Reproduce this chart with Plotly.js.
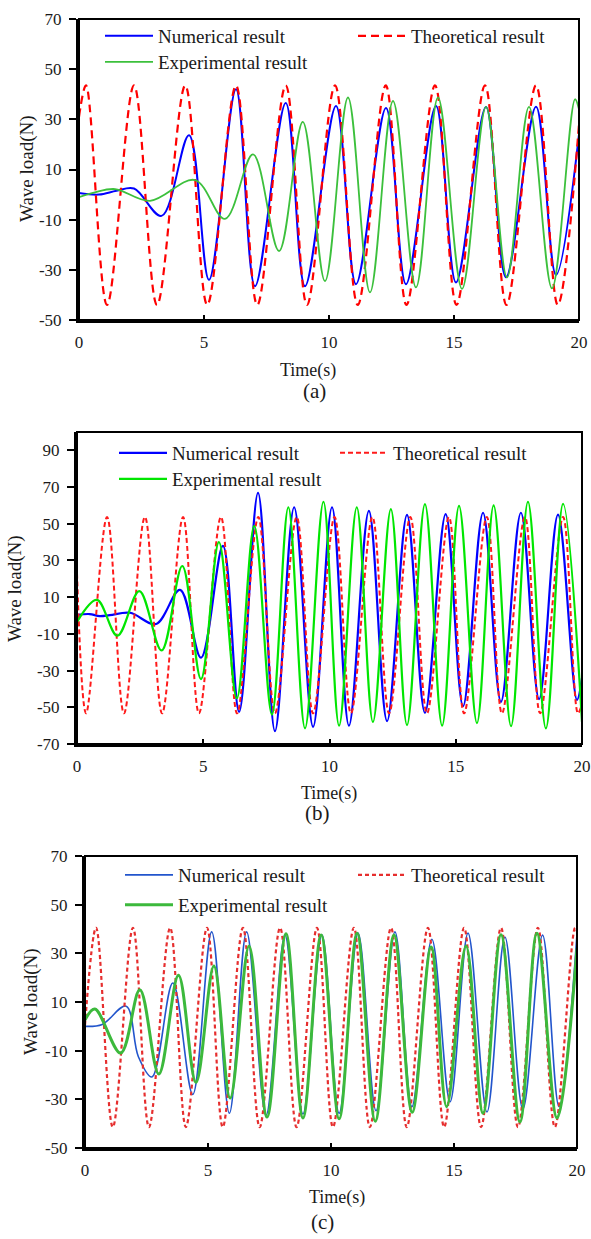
<!DOCTYPE html>
<html>
<head>
<meta charset="utf-8">
<script src="https://cdn.plot.ly/plotly-3.0.1.min.js"></script>
<style>
html,body{margin:0;padding:0;background:#fff;}
#chart{width:591px;height:1239px;}
</style>
</head>
<body>
<div id="chart"></div>
<script>
// ---------------- Panel (a) ----------------
var tA_num = [0, 0.8, 1.5, 2.2, 3.3, 4.4, 5.2, 6.28, 7.04, 8.27, 9.04, 10.28, 11.08, 12.28, 13.08, 14.28, 15.08, 16.28, 17.08, 18.28, 19.08, 20];
var yA_num = [0.6, 0, 1.5, 2.4, -8.5, 23.7, -34, 42, -36.5, 36.5, -36.5, 35.3, -35.7, 34.5, -35.7, 35.3, -35, 34.9, -33, 35, -32, 24];
var tA_theo = [0, 0.28, 1.12, 2.2, 3.12, 4.25, 5.13, 6.28, 7.13, 8.27, 9.12, 10.24, 11.15, 12.27, 13.1, 14.24, 15.1, 16.24, 17.1, 18.28, 19.15, 20];
var yA_theo = [31, 43.5, -44, 43.5, -44, 43.5, -44, 43.5, -44, 43.5, -44, 43.5, -44, 43.5, -44, 43.5, -44, 43.5, -44, 43.5, -44, 28];
var tA_exp = [0, 0.6, 1.44, 2.84, 4.64, 5.84, 6.96, 8.0, 8.95, 9.84, 10.76, 11.64, 12.56, 13.48, 14.36, 15.32, 16.28, 17.12, 18.0, 18.92, 19.84, 20];
var yA_exp = [-1, 0.8, 2.2, -2.5, 5.8, -9.7, 16, -22.5, 29, -34.5, 38.7, -39, 37.3, -37, 38.7, -37.6, 35, -33, 35, -37.4, 38, 34];

// ---------------- Panel (b) ----------------
var tB_num = [0, 0.5, 0.9, 1.3, 2.1, 3.13, 4.08, 4.91, 5.78, 6.42, 7.17, 7.84, 8.6, 9.35, 10.1, 10.77, 11.56, 12.28, 13.07, 13.78, 14.6, 15.29, 16.08, 16.79, 17.58, 18.3, 19.05, 19.8, 20];
var yB_num = [0.3, 0.8, -0.3, 0.2, 1.5, -4.6, 14, -23, 38, -52.5, 66.8, -63, 59, -60.7, 59, -60, 57, -57.5, 54.8, -53, 55.2, -49.4, 56, -47, 56, -45.5, 55, -46, -34];
var tB_theo = [0, 0.36, 1.19, 1.86, 2.69, 3.37, 4.2, 4.83, 5.7, 6.34, 7.18, 7.84, 8.7, 9.35, 10.2, 10.85, 11.7, 12.36, 13.2, 13.86, 14.73, 15.33, 16.23, 16.83, 17.74, 18.34, 19.25, 19.84, 20];
var yB_theo = [23, -53.3, 53.7, -53.3, 53.7, -53.3, 53.7, -53.3, 53.7, -53.3, 53.7, -53.3, 53.7, -53.3, 53.7, -53.3, 53.7, -53.3, 53.7, -53.3, 53.7, -53.3, 53.7, -53.3, 53.7, -53.3, 53.7, -53.3, -48];
var tB_exp = [0, 0.79, 1.6, 2.47, 3.35, 4.17, 4.91, 5.62, 6.33, 7.02, 7.72, 8.37, 9.03, 9.76, 10.38, 11.08, 11.72, 12.43, 13.07, 13.78, 14.46, 15.13, 15.84, 16.5, 17.19, 17.86, 18.57, 19.25, 20];
var yB_exp = [-3.5, 8.5, -11, 13.3, -19, 27, -34.6, 40, -45, 48.8, -54, 59, -61.5, 62, -60, 59, -58, 58, -59.7, 60.7, -60, 59.7, -58.6, 60, -60.3, 62, -61.5, 60.8, -58];

// ---------------- Panel (c) ----------------
var tC_num = [0, 0.7, 1.67, 2.17, 2.72, 3.57, 4.38, 5.15, 5.87, 6.57, 7.36, 8.13, 8.86, 9.63, 10.33, 11.1, 11.83, 12.6, 13.29, 14.1, 14.84, 15.57, 16.34, 17.07, 17.8, 18.6, 19.27, 20];
var yC_num = [0, 0.8, 8.3, -12.5, -20.8, 17.8, -28, 38.8, -35.7, 38.8, -36.5, 37.5, -36, 37.6, -35.7, 38.3, -34.7, 38.8, -33, 35.8, -31, 38.3, -35.2, 36.7, -34, 37.5, -33, 38];
var tC_theo = [0, 0.45, 1.13, 1.95, 2.6, 3.46, 4.1, 4.96, 5.6, 6.42, 7.1, 7.93, 8.6, 9.43, 10.08, 10.93, 11.58, 12.44, 13.08, 13.94, 14.6, 15.41, 16.1, 16.91, 17.6, 18.41, 19.1, 19.92, 20];
var yC_theo = [0.5, 40.5, -41.4, 40.5, -41.4, 40.5, -41.4, 40.5, -41.4, 40.5, -41.4, 40.5, -41.4, 40.5, -41.4, 40.5, -41.4, 40.5, -41.4, 40.5, -41.4, 40.5, -41.4, 40.5, -41.4, 40.5, -41.4, 40.5, 39];
var tC_exp = [0, 0.4, 1.45, 2.23, 3.0, 3.8, 4.51, 5.24, 5.9, 6.67, 7.4, 8.17, 8.86, 9.6, 10.33, 11.06, 11.8, 12.56, 13.3, 14.07, 14.7, 15.49, 16.18, 16.91, 17.68, 18.37, 19.19, 20];
var yC_exp = [2.6, 7.1, -11, 15, -19.6, 21, -23, 24.8, -29.5, 33, -37.3, 38, -37.7, 37.5, -38, 38.3, -39, 37.5, -35.3, 32.6, -33, 33, -35.7, 37.6, -39.3, 38.3, -37.7, 32];

// ---------------- Labels / ticks ----------------
var seriesNames = ['Numerical result', 'Theoretical result', 'Experimental result'];
var panelLabels = ['(a)', '(b)', '(c)'];
var xTicks = [0, 5, 10, 15, 20];
var yTicksA = [-50, -30, -10, 10, 30, 50, 70];
var yTicksB = [-70, -50, -30, -10, 10, 30, 50, 70, 90];
var yTicksC = [-50, -30, -10, 10, 30, 50, 70];
var xTitle = 'Time(s)';
var yTitle = 'Wave load(N)';

// ---------------- Styling / geometry ----------------
var W = 591, H = 1239;
var FONT = '"Liberation Serif", "Times New Roman", serif';
var TXT = '#1a1a1a';
function px(x){ return x / W; }
function py(y){ return 1 - y / H; }

var panels = [
  {id:'', box:[79,579,19,320], yr:[-50,70], yt:yTicksA,
   data:[[tA_num,yA_num],[tA_theo,yA_theo],[tA_exp,yA_exp]],
   styles:[{color:'#0000ff',width:2},{color:'#ff0000',width:2.2,dash:'8px,5px'},{color:'#3cc03c',width:1.8}],
   leg:[[100,36],[353,36],[100,62]], label:[314,391], xt:[308,370], yt2:[27,169]},
  {id:'2', box:[77,582,432,744], yr:[-70,100], yt:yTicksB,
   data:[[tB_num,yB_num],[tB_theo,yB_theo],[tB_exp,yB_exp]],
   styles:[{color:'#0000ff',width:2.2},{color:'#ff1a1a',width:2,dash:'5px,3px'},{color:'#00e600',width:2.2}],
   leg:[[114,453],[335,453],[114,479]], label:[317,813], xt:[329,793], yt2:[15,589]},
  {id:'3', box:[85,577,856,1148], yr:[-50,70], yt:yTicksC,
   data:[[tC_num,yC_num],[tC_theo,yC_theo],[tC_exp,yC_exp]],
   styles:[{color:'#2255cc',width:1.6},{color:'#e62e2e',width:2.2,dash:'4px,3px'},{color:'#3cb93c',width:3}],
   leg:[[120,875],[353,875],[120,905]], label:[322,1222], xt:[337,1197], yt2:[31,1002]}
];

var traces = [];
var layout = {
  width: W, height: H,
  margin: {l:0, r:0, t:0, b:0},
  paper_bgcolor: '#fff', plot_bgcolor: '#fff',
  font: {family: FONT, color: TXT, size: 17},
  showlegend: true,
  annotations: [], shapes: []
};

var legendCount = 0;
panels.forEach(function(p, pi){
  var xa = 'xaxis' + p.id, ya = 'yaxis' + p.id;
  var xr = 'x' + p.id, yr = 'y' + p.id;
  layout[xa] = {
    domain: [px(p.box[0]), px(p.box[1])],
    anchor: yr, range: [0, 20], tickvals: xTicks, ticktext: xTicks.map(String),
    ticks: 'inside', ticklen: 5, tickwidth: 2, tickcolor: '#000',
    ticklabelstandoff: 5,
    showline: true, linewidth: 3, linecolor: '#000',
    showgrid: false, zeroline: false,
    tickfont: {family: FONT, size: 17, color: TXT},
    automargin: false, fixedrange: true
  };
  layout[ya] = {
    domain: [py(p.box[3]), py(p.box[2])],
    anchor: xr, range: p.yr, tickvals: p.yt, ticktext: p.yt.map(String),
    ticks: 'outside', ticklen: 7, tickwidth: 2, tickcolor: '#000',
    ticklabelstandoff: 4,
    showline: true, linewidth: 3, linecolor: '#000',
    showgrid: false, zeroline: false,
    tickfont: {family: FONT, size: 17, color: TXT},
    automargin: false, fixedrange: true
  };
  // frame (top/right border)
  layout.shapes.push({type:'rect', xref: xr + ' domain', yref: yr + ' domain',
    x0:0, x1:1, y0:0, y1:1, line:{color:'#000', width:2}, layer:'above'});
  // axis titles
  layout.annotations.push({text: xTitle, xref:'paper', yref:'paper',
    x: px(p.xt[0]), y: py(p.xt[1]), xanchor:'center', yanchor:'middle',
    showarrow:false, font:{family: FONT, size: 18, color: TXT}});
  layout.annotations.push({text: yTitle, xref:'paper', yref:'paper', textangle: -90,
    x: px(p.yt2[0]), y: py(p.yt2[1]), xanchor:'center', yanchor:'middle',
    showarrow:false, font:{family: FONT, size: 19, color: TXT}});
  // panel letter
  layout.annotations.push({text: panelLabels[pi], xref:'paper', yref:'paper',
    x: px(p.label[0]), y: py(p.label[1]), xanchor:'center', yanchor:'middle',
    showarrow:false, font:{family: FONT, size: 21, color: TXT}});

  p.data.forEach(function(d, si){
    legendCount++;
    var lname = legendCount === 1 ? 'legend' : 'legend' + legendCount;
    layout[lname] = {
      x: px(p.leg[si][0]), y: py(p.leg[si][1]), xref:'paper', yref:'paper',
      xanchor:'left', yanchor:'middle', bgcolor:'rgba(0,0,0,0)', borderwidth:0,
      itemwidth: 48,
      font:{family: FONT, size: 19, color: TXT}
    };
    var st = p.styles[si];
    traces.push({
      type:'scatter', mode:'lines', x: d[0], y: d[1], xaxis: xr, yaxis: yr,
      name: seriesNames[si], legend: lname,
      line: {color: st.color, width: st.width, dash: st.dash || 'solid', shape:'spline', smoothing: 1},
      hoverinfo: 'skip'
    });
  });
});

Plotly.newPlot('chart', traces, layout, {staticPlot: true, displayModeBar: false}).then(function(){
  // lengthen legend sample lines to match the reference key
  document.querySelectorAll('.legendlines path').forEach(function(el){
    el.setAttribute('d', 'M5,0h48');
  });
});
</script>
</body>
</html>
